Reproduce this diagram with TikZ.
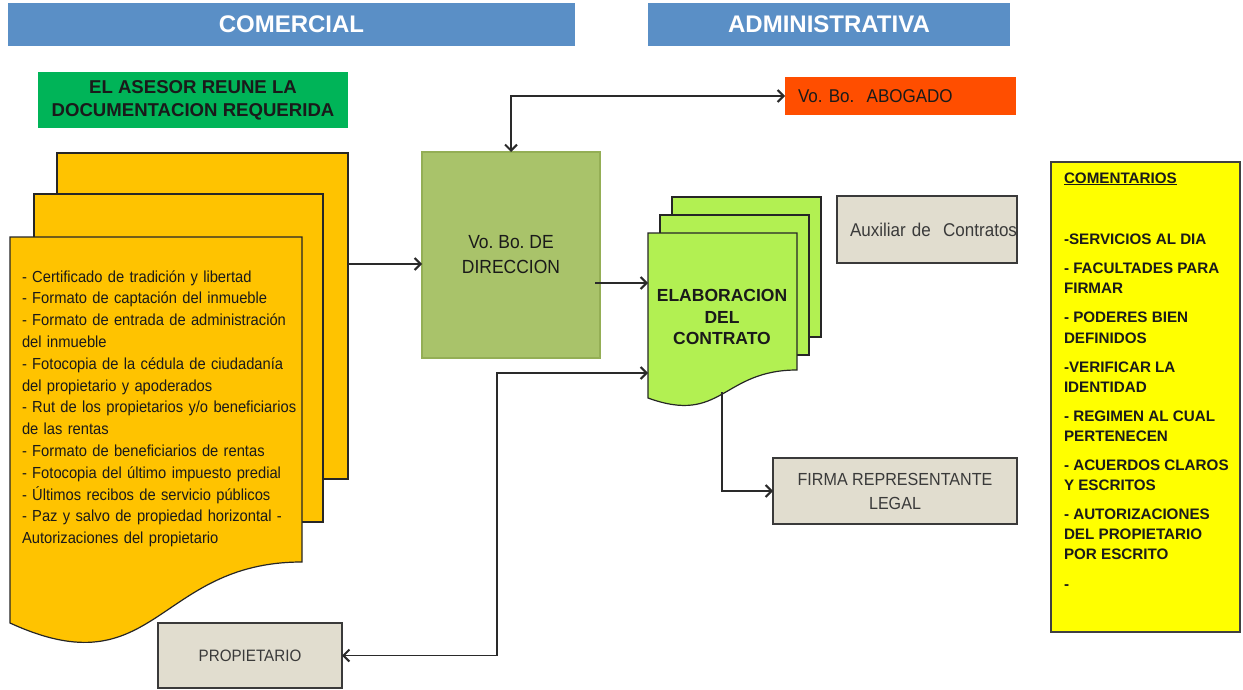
\documentclass[tikz,border=0pt]{standalone}
\usepackage{fontspec}
\setmainfont{Liberation Sans}
\newfontfamily\narrowfont[FakeStretch=0.92]{Liberation Sans}
\usetikzlibrary{arrows.meta}
\frenchspacing

\newcommand{\fsz}[2]{\fontsize{#1}{#2}\selectfont}

\definecolor{hdrblue}{HTML}{5A8FC6}
\definecolor{asesorgreen}{HTML}{00B458}
\definecolor{docyellow}{HTML}{FFC300}
\definecolor{docgreen}{HTML}{B2F052}
\definecolor{dirgreen}{HTML}{A9C36A}
\definecolor{dirgreenedge}{HTML}{94AE55}
\definecolor{abogred}{HTML}{FF4E00}
\definecolor{boxbeige}{HTML}{E1DDCF}
\definecolor{boxedge}{HTML}{3A3A3A}
\definecolor{notesyellow}{HTML}{FFFF00}
\definecolor{notesedge}{HTML}{404040}
\definecolor{edgedark}{HTML}{262626}
\definecolor{linedark}{HTML}{2A2A2A}
\definecolor{textdark}{HTML}{1A1A1A}
\definecolor{textgrey}{HTML}{3A3A3A}

\begin{document}
\begin{tikzpicture}[x=1pt,y=-1pt,
  every node/.style={inner sep=0pt, outer sep=0pt},
  band/.style={fill=hdrblue, text=white, font=\bfseries\fsz{24}{28}},
  stepnote/.style={fill=asesorgreen, text=textdark, align=center, font=\bfseries\fsz{18.6}{23}},
  ysheet/.style={fill=docyellow, draw=edgedark, line width=1.2pt},
  gsheet/.style={fill=docgreen, draw=edgedark, line width=1.2pt},
  dirbox/.style={fill=dirgreen, draw=dirgreenedge, line width=1.8pt, align=center,
    text=textdark, font=\narrowfont\fsz{19}{25}},
  greybox/.style={fill=boxbeige, draw=boxedge, line width=1.6pt, align=center,
    text=textgrey, font=\narrowfont\fsz{17.5}{24}},
  notetext/.style={anchor=base west, text=textdark, font=\bfseries\fsz{15.2}{18}},
  conn/.style={draw=linedark, line width=1.3pt},
  >={Straight Barb[length=6pt,width=12pt,line width=2pt]}
]
\useasboundingbox (0,0) rectangle (1243,690);
\fill[white] (0,0) rectangle (1243,690);

% area headers
\node[band, minimum width=567pt, minimum height=43pt] (comercial) at (291.5,24.5) {COMERCIAL};
\node[band, minimum width=362pt, minimum height=43pt] (admin) at (829,24.5) {ADMINISTRATIVA};

% first step
\node[stepnote, minimum width=310pt, minimum height=56pt] (asesor) at (193,100)
  {EL ASESOR REUNE LA\\DOCUMENTACION REQUERIDA};

% stack of required documents
\node[ysheet, minimum width=291pt, minimum height=326pt] (docback) at (202.5,316) {};
\node[ysheet, minimum width=289pt, minimum height=328pt] (docmid) at (178.5,358) {};
\draw[ysheet] (10,237) -- (302,237) -- (302,562)
  .. controls (156,562) and (156,690) .. (10,623) -- cycle;
\node[anchor=base west, text width=285pt, align=left, text=textdark,
  font=\narrowfont\fsz{16}{21.8}] (docs) at (22,282)
  {- Certificado de tradición y libertad\\
   - Formato de captación del inmueble\\
   - Formato de entrada de administración\\
   del inmueble\\
   - Fotocopia de la cédula de ciudadanía\\
   del propietario y apoderados\\
   - Rut de los propietarios y/o beneficiarios\\
   de las rentas\\
   - Formato de beneficiarios de rentas\\
   - Fotocopia del último impuesto predial\\
   - Últimos recibos de servicio públicos\\
   - Paz y salvo de propiedad horizontal -\\
   Autorizaciones del propietario};

% direction approval
\node[dirbox, minimum width=178pt, minimum height=206pt] (dir) at (511,255)
  {Vo. Bo. DE\\DIRECCION};

% lawyer approval
\node[fill=abogred, minimum width=231pt, minimum height=38pt, text width=205pt,
  inner xsep=13pt, align=left, text=textdark, font=\narrowfont\fsz{18.5}{22}]
  (abog) at (900.5,96) {Vo. Bo.\ \ ABOGADO};

% contract drafting stack
\node[gsheet, minimum width=149pt, minimum height=140pt] (gback) at (746.5,267) {};
\node[gsheet, minimum width=149pt, minimum height=140pt] (gmid) at (734.5,285) {};
\draw[gsheet] (648,233) -- (797,233) -- (797,370)
  .. controls (722,370) and (722,425) .. (648,398) -- cycle;
\node[align=center, text=textdark, font=\bfseries\fsz{17.5}{21.5}] (elab) at (722,317)
  {ELABORACION\\DEL\\CONTRATO};

% people involved
\node[greybox, minimum width=180pt, minimum height=67pt, text width=154pt,
  inner xsep=13pt, align=left, font=\narrowfont\fsz{18.5}{22}] (aux) at (927,229.5)
  {\mbox{Auxiliar de\ \ Contratos}};
\node[greybox, minimum width=244pt, minimum height=66pt] (firma) at (895,491)
  {FIRMA REPRESENTANTE\\LEGAL};
\node[greybox, minimum width=184pt, minimum height=65pt, font=\narrowfont\fsz{16.5}{20}]
  (prop) at (250,655.5) {PROPIETARIO};

% comments panel
\node[fill=notesyellow, draw=notesedge, line width=1.3pt, minimum width=189pt,
  minimum height=470pt] (notes) at (1145.5,397) {};
\node[notetext] (notetitle) at (1064,183) {\underline{COMENTARIOS}};
\foreach \yy/\txt [count=\k] in {
  244/-SERVICIOS AL DIA,
  273/- FACULTADES PARA,
  293/FIRMAR,
  322/- PODERES BIEN,
  343/DEFINIDOS,
  372/-VERIFICAR LA,
  392/IDENTIDAD,
  421/- REGIMEN AL CUAL,
  441/PERTENECEN,
  470/- ACUERDOS CLAROS,
  490/Y ESCRITOS,
  519/- AUTORIZACIONES,
  539/DEL PROPIETARIO,
  559/POR ESCRITO,
  589/-}
  \node[notetext] (note\k) at (1064,\yy) {\txt};

% connectors
\coordinate (rowA) at (0,264);
\draw[conn,->] (docback.east |- rowA) -- (dir.west |- rowA);
\draw[conn,<->] (dir.north) |- (abog.west);
\coordinate (dirout) at (595,283);
\coordinate (elabin) at (648,283);
\draw[conn,->] (dirout) -- (elabin);
\coordinate (elabback) at (648,373);
\coordinate (turn) at (497,373);
\draw[conn,<->] (prop.east) -| (turn) -- (elabback);
\coordinate (elabout) at (722,392);
\draw[conn,->] (elabout) |- (firma.west);
\end{tikzpicture}
\end{document}
